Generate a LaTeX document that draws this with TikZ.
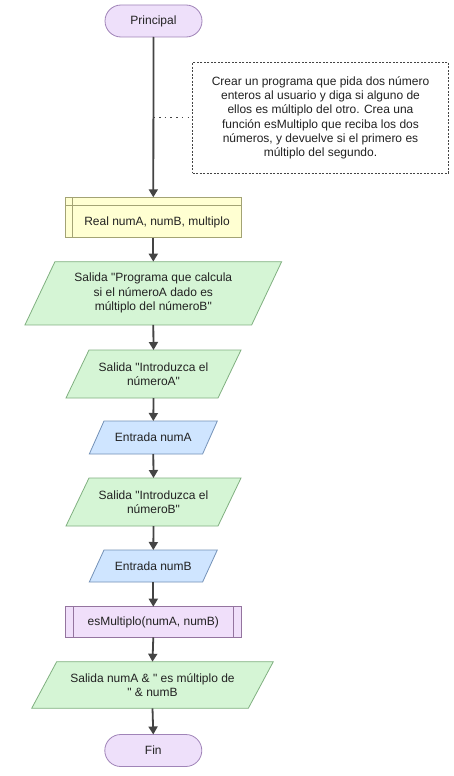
\documentclass[tikz,border=0pt]{standalone}
\usepackage{fontspec}
\setmainfont{Liberation Sans}[Ligatures=TeXOff]
\usetikzlibrary{arrows.meta,calc}
\pgfdeclarelayer{back}
\pgfdeclarelayer{bg}
\pgfsetlayers{back,bg,main}
\definecolor{txt}{HTML}{222222}
\definecolor{lin}{HTML}{444444}
\definecolor{termfill}{HTML}{EEE0FA}
\definecolor{termdraw}{HTML}{A084B8}
\definecolor{declfill}{HTML}{FFFFD2}
\definecolor{decldraw}{HTML}{A3A374}
\definecolor{outfill}{HTML}{D5F5D5}
\definecolor{outdraw}{HTML}{80B080}
\definecolor{infill}{HTML}{CFE5FF}
\definecolor{indraw}{HTML}{7492B8}
\definecolor{subfill}{HTML}{F0DFFA}
\definecolor{subdraw}{HTML}{94749F}
\tikzset{
  base/.style={inner sep=0pt, outer sep=0pt, font=\fontsize{12}{14.5}\selectfont, text=txt, align=center},
  term/.style={base, draw=termdraw, fill=termfill, line width=0.8pt, rounded corners=16pt, minimum width=97pt, minimum height=32pt},
  decl/.style={base, draw=decldraw, fill=declfill, line width=0.8pt, minimum width=176.7pt, minimum height=40.4pt},
  sub/.style={base, draw=subdraw, fill=subfill, line width=0.8pt, minimum width=176.7pt, minimum height=30.6pt},
  para/.style={base},
  outshape/.style={draw=outdraw, fill=outfill, line width=0.8pt},
  inshape/.style={draw=indraw, fill=infill, line width=0.8pt},
  flow/.style={draw=lin, line width=1.8pt, -{Triangle[length=8pt,width=9pt]}},
  note/.style={base, font=\fontsize{12}{14.2}\selectfont, draw=lin, line width=0.6pt, dash pattern=on 2pt off 1.5pt, minimum width=255.6pt, minimum height=111pt},
  notelink/.style={draw=lin, line width=1.3pt, dash pattern=on 1.5pt off 4.2pt}
}
\newcommand{\parashape}[3]{%
  \begin{pgfonlayer}{bg}
  \draw[#3] ($(#1.north west)+(#2pt,0)$) -- (#1.north east) -- ($(#1.south east)-(#2pt,0)$) -- (#1.south west) -- cycle;
  \end{pgfonlayer}}
\begin{document}
\begin{tikzpicture}[x=1pt,y=-1pt]
\begin{pgfonlayer}{back}
\fill[white] (0,0) rectangle (454,776);
\end{pgfonlayer}
\useasboundingbox (0,0) rectangle (454,776);

\node[term] (start) at (153.5,21) {Principal};

\node[note] (com) at (320.5,117.8) {Crear un programa que pida dos número\\enteros al usuario y diga si alguno de\\ellos es múltiplo del otro. Crea una\\función esMultiplo que reciba los dos\\números, y devuelve si el primero es\\múltiplo del segundo.};

\node[decl] (dec) at (153.3,217.5) {};
\draw[decldraw, line width=0.8pt] (65,205.7) -- (241.7,205.7);
\draw[decldraw, line width=0.8pt] (72.3,197.3) -- (72.3,237.7);
\node[base] (dect) at (157,222) {Real numA, numB, multiplo};

\node[para, minimum width=256.7pt, minimum height=63.3pt] (o1) at (153.3,293.3) {Salida "Programa que calcula\\si el númeroA dado es\\múltiplo del númeroB"};
\parashape{o1}{30}{outshape}

\node[para, minimum width=175pt, minimum height=48pt] (o2) at (153.5,374) {Salida "Introduzca el\\númeroA"};
\parashape{o2}{23}{outshape}

\node[para, minimum width=128pt, minimum height=33pt] (i1) at (153.3,437.5) {Entrada numA};
\parashape{i1}{14.7}{inshape}

\node[para, minimum width=175pt, minimum height=48pt] (o3) at (153.5,502) {Salida "Introduzca el\\númeroB"};
\parashape{o3}{23}{outshape}

\node[para, minimum width=128pt, minimum height=32pt] (i2) at (153.3,566) {Entrada numB};
\parashape{i2}{14.7}{inshape}

\node[sub] (f) at (153.3,622) {esMultiplo(numA, numB)};
\draw[subdraw, line width=0.8pt] (73.3,606.7) -- (73.3,637.3);
\draw[subdraw, line width=0.8pt] (233.3,606.7) -- (233.3,637.3);

\node[para, minimum width=241.6pt, minimum height=46.6pt] (o4) at (152.5,685) {Salida numA \& " es múltiplo de\\" \& numB};
\parashape{o4}{25}{outshape}

\node[term] (end) at (153.3,750.5) {Fin};

\coordinate (tap) at (153.3,117.8);
\draw[notelink] (tap) -- (com.west);

\draw[flow] (start.south) -- (dec.north);
\draw[flow] (dec.south) -- (o1.north);
\draw[flow] (o1.south) -- (o2.north);
\draw[flow] (o2.south) -- (i1.north);
\draw[flow] (i1.south) -- (o3.north);
\draw[flow] (o3.south) -- (i2.north);
\draw[flow] (i2.south) -- (f.north);
\draw[flow] (f.south) -- (o4.north);
\draw[flow] (o4.south) -- (end.north);
\end{tikzpicture}
\end{document}
